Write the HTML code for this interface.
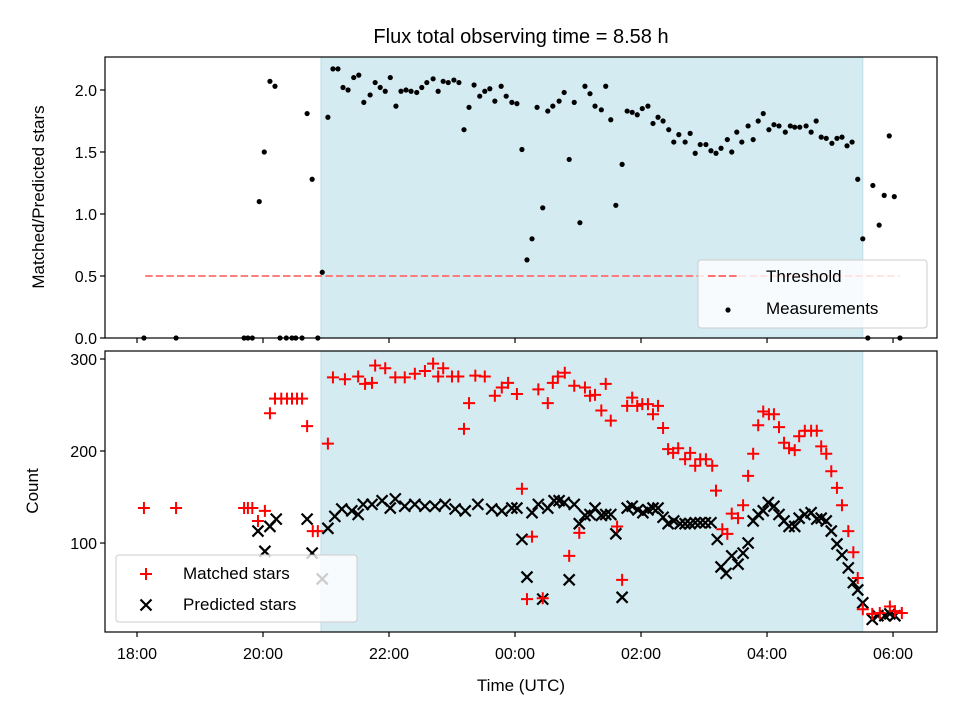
<!DOCTYPE html>
<html><head><meta charset="utf-8"><style>
body{margin:0;background:#fff;}
svg text{font-family:"Liberation Sans","DejaVu Sans",sans-serif;fill:#000;}
</style></head><body>
<svg id="chart" width="960" height="720" xmlns="http://www.w3.org/2000/svg">
<rect width="960" height="720" fill="#fff"/>
<text x="521" y="43" font-size="20" text-anchor="middle">Flux total observing time = 8.58 h</text>
<g id="topg"></g><g id="botg"></g>
</svg>
<script>
// hours since 18:00 UTC
const ratioTimes=[.11,.62,1.70,1.76,1.83,1.94,2.02,2.11,2.19,2.27,2.37,2.46,2.52,2.62,2.70,2.78,2.87,2.94,3.03,3.11,3.19,3.27,3.35,3.44,3.52,3.60,3.70,3.78,3.86,3.94,4.02,4.11,4.19,4.27,4.35,4.44,4.52,4.60,4.70,4.78,4.86,4.94,5.03,5.11,5.19,5.27,5.35,5.44,5.52,5.60,5.68,5.78,5.86,5.95,6.03,6.11,6.19,6.27,6.35,6.44,6.52,6.60,6.70,6.78,6.86,6.94,7.03,7.11,7.19,7.27,7.37,7.44,7.52,7.60,7.70,7.78,7.86,7.94,8.02,8.11,8.19,8.27,8.35,8.44,8.52,8.60,8.70,8.78,8.86,8.94,9.03,9.11,9.19,9.27,9.37,9.44,9.52,9.60,9.70,9.78,9.86,9.94,10.03,10.11,10.19,10.29,10.37,10.44,10.52,10.62,10.70,10.78,10.86,10.94,11.03,11.11,11.19,11.27,11.35,11.44,11.52,11.60,11.68,11.78,11.86,11.94,12.02,12.11];
const ratioValues=[0,0,0,0,0,1.10,1.50,2.07,2.03,0,0,0,0,0,1.81,1.28,0,0.53,1.78,2.17,2.17,2.02,2.00,2.10,2.12,1.90,1.96,2.06,2.02,1.99,2.10,1.87,1.99,2.00,1.99,1.98,2.02,2.06,2.09,1.99,2.07,2.06,2.08,2.06,1.68,1.86,2.04,1.95,1.99,2.01,1.91,2.03,1.95,1.90,1.89,1.52,0.63,0.80,1.86,1.05,1.83,1.87,1.91,1.98,1.44,1.90,0.93,2.03,1.97,1.87,1.84,2.03,1.76,1.07,1.40,1.83,1.82,1.80,1.85,1.87,1.73,1.78,1.75,1.68,1.58,1.64,1.58,1.65,1.49,1.56,1.56,1.51,1.49,1.53,1.60,1.50,1.66,1.58,1.71,1.60,1.75,1.81,1.68,1.72,1.71,1.66,1.71,1.70,1.70,1.71,1.66,1.75,1.62,1.61,1.57,1.61,1.62,1.55,1.58,1.28,0.80,0,1.23,0.91,1.15,1.63,1.14,0];
const matchedTimes=[.11,.62,1.70,1.76,1.83,1.92,2.03,2.11,2.19,2.29,2.38,2.46,2.54,2.62,2.70,2.79,2.87,3.03,3.11,3.30,3.51,3.62,3.73,3.78,3.94,4.10,4.25,4.41,4.57,4.70,4.78,4.86,5.00,5.10,5.19,5.27,5.37,5.52,5.68,5.79,5.89,6.03,6.11,6.19,6.27,6.37,6.44,6.52,6.60,6.68,6.79,6.86,6.94,7.02,7.11,7.19,7.27,7.37,7.44,7.52,7.62,7.70,7.78,7.86,7.94,8.02,8.11,8.19,8.27,8.35,8.43,8.51,8.59,8.70,8.78,8.86,8.94,9.03,9.13,9.19,9.29,9.37,9.44,9.54,9.62,9.70,9.78,9.86,9.94,10.03,10.11,10.19,10.27,10.35,10.44,10.51,10.60,10.70,10.79,10.86,10.94,11.02,11.11,11.19,11.29,11.37,11.44,11.52,11.67,11.79,11.95,12.03,12.14];
const matchedValues=[138,138,138,138,138,124,135,241,257,257,257,257,257,257,227,113,113,208,280,278,281,273,274,293,290,280,280,284,287,295,281,290,281,281,224,252,282,281,260,269,274,262,159,39,107,267,40,252,274,281,285,86,271,111,269,260,261,244,273,233,118,60,249,258,249,251,251,240,249,225,202,198,203,191,198,184,191,191,184,157,115,110,132,127,141,173,197,228,243,240,240,226,209,203,201,216,222,222,222,205,197,178,160,141,113,90,62,28,23,24,31,26,24];
const predTimes=[1.92,2.03,2.11,2.21,2.70,2.78,2.94,3.03,3.14,3.25,3.41,3.51,3.59,3.73,3.89,4.02,4.10,4.25,4.41,4.57,4.73,4.89,5.05,5.21,5.41,5.63,5.79,5.95,6.03,6.11,6.19,6.27,6.37,6.44,6.52,6.62,6.70,6.78,6.86,6.94,7.02,7.11,7.19,7.27,7.37,7.44,7.52,7.60,7.70,7.78,7.86,7.95,8.03,8.11,8.19,8.27,8.35,8.43,8.52,8.62,8.70,8.78,8.86,8.94,9.02,9.11,9.21,9.27,9.35,9.44,9.54,9.62,9.70,9.78,9.86,9.94,10.02,10.11,10.19,10.27,10.35,10.44,10.51,10.60,10.70,10.79,10.86,10.94,11.02,11.11,11.19,11.29,11.37,11.44,11.52,11.67,11.76,11.87,11.95,12.03];
const predValues=[113,91,118,126,126,89,61,116,129,137,135,131,142,142,146,138,148,140,142,140,140,142,137,135,142,137,135,138,138,104,63,133,142,39,138,146,146,144,60,142,121,130,131,138,130,131,131,110,41,138,140,136,133,136,138,138,128,121,124,121,121,121,122,122,122,122,104,74,67,86,77,89,100,124,131,135,144,140,131,124,118,118,127,131,133,126,127,124,113,99,87,73,57,49,35,17,21,21,23,21];
const xTickHours=[0,2,4,6,8,10,12];
const xTickLabels=["18:00","20:00","22:00","00:00","02:00","04:00","06:00"];
const topTicks=[0,0.5,1.0,1.5,2.0];
const topTickLabels=["0.0","0.5","1.0","1.5","2.0"];
const botTicks=[100,200,300];
const botTickLabels=["100","200","300"];
const spanStart=2.92, spanEnd=11.52;
const threshold=0.5, thrStart=0.13, thrEnd=12.11;

const NS="http://www.w3.org/2000/svg";
const L=105,R=937;
const X=h=>L+(h+0.508)/(13.206)*(R-L);
const TT=57,TB=338,BT=351,BB=632;
const YT=v=>TB-(v/2.266)*(TB-TT);
const YB=v=>BB-((v-3.3)/(308.7-3.3))*(BB-BT);
function mk(tag,attrs,parent){const e=document.createElementNS(NS,tag);for(const k in attrs)e.setAttribute(k,attrs[k]);parent.appendChild(e);return e;}
const gTop=document.getElementById('topg'), gBot=document.getElementById('botg');

function frame(g,t,b,name){
  const s=mk('rect',{x:X(spanStart),y:t,width:X(spanEnd)-X(spanStart),height:b-t,fill:'#d4ebf2',stroke:'#bcdde8','stroke-width':1},g);
  
  
}
frame(gTop,TT,TB,'top');frame(gBot,BT,BB,'bottom');

const th=mk('line',{x1:X(thrStart),x2:X(thrEnd),y1:YT(threshold),y2:YT(threshold),stroke:'#ff7070','stroke-opacity':0.9,'stroke-width':2,'stroke-dasharray':'7.4,3.2'},gTop);



for(let i=0;i<Math.min(ratioTimes.length,ratioValues.length);i++){
  const c=mk('circle',{cx:X(ratioTimes[i]),cy:YT(ratioValues[i]),r:2.6,fill:'#000'},gTop);
  
  
}
for(let i=0;i<Math.min(predTimes.length,predValues.length);i++){
  const x=X(predTimes[i]),y=YB(predValues[i]),d=5.5;
  const p=mk('path',{d:`M${x-d},${y-d}L${x+d},${y+d}M${x-d},${y+d}L${x+d},${y-d}`,stroke:'#000','stroke-width':2.2},gBot);
  
  
}
for(let i=0;i<Math.min(matchedTimes.length,matchedValues.length);i++){
  const x=X(matchedTimes[i]),y=YB(matchedValues[i]),d=6;
  const p=mk('path',{d:`M${x-d},${y}L${x+d},${y}M${x},${y-d}L${x},${y+d}`,stroke:'#f00','stroke-width':2},gBot);
  
  
}

function axes(g,t,b,ticks,labels,Y,name){
  const r=mk('rect',{x:L,y:t,width:R-L,height:b-t,fill:'none',stroke:'#000','stroke-width':1.2},g);
  
  
  ticks.forEach((v,i)=>{
    mk('line',{x1:L-5,x2:L,y1:Y(v),y2:Y(v),stroke:'#000','stroke-width':1.2},g);
    const tx=mk('text',{x:L-8,y:Y(v)+6,'font-size':16,'text-anchor':'end'},g);
    tx.textContent=labels[i];
    
    
  });
  xTickHours.forEach(h=>{mk('line',{x1:X(h),x2:X(h),y1:b,y2:b+5,stroke:'#000','stroke-width':1.2},g);});
}
axes(gTop,TT,TB,topTicks,topTickLabels,YT,'top');
axes(gBot,BT,BB,botTicks,botTickLabels,YB,'bottom');
xTickHours.forEach((h,i)=>{
  const tx=mk('text',{x:X(h),y:BB+27,'font-size':16,'text-anchor':'middle'},gBot);
  tx.textContent=xTickLabels[i];
  
  
});
let e;
e=mk('text',{x:521,y:691,'font-size':17,'text-anchor':'middle'},gBot);e.textContent='Time (UTC)';


e=mk('text',{x:0,y:0,'font-size':17,'text-anchor':'middle',transform:'translate(44,197) rotate(-90)'},gTop);e.textContent='Matched/Predicted stars';


e=mk('text',{x:0,y:0,'font-size':17,'text-anchor':'middle',transform:'translate(38,491) rotate(-90)'},gBot);e.textContent='Count';



const lg1=mk('g',{},gTop);


mk('rect',{x:698,y:260,width:229,height:68,rx:3,fill:'#fff','fill-opacity':0.8,stroke:'#ccc'},lg1);
mk('line',{x1:708,x2:738,y1:276,y2:276,stroke:'#ff7070','stroke-width':2,'stroke-dasharray':'7.4,3.2'},lg1);
mk('circle',{cx:728,cy:310,r:2.6,fill:'#000'},lg1);
e=mk('text',{x:766,y:282,'font-size':17},lg1);e.textContent='Threshold';
e=mk('text',{x:766,y:314,'font-size':17},lg1);e.textContent='Measurements';
const lg2=mk('g',{},gBot);


mk('rect',{x:116,y:555,width:241,height:67,rx:3,fill:'#fff','fill-opacity':0.8,stroke:'#ccc'},lg2);
mk('path',{d:'M140,574L152,574M146,568L146,580',stroke:'#f00','stroke-width':2},lg2);
mk('path',{d:'M140.5,599.5L151.5,610.5M140.5,610.5L151.5,599.5',stroke:'#000','stroke-width':2.2},lg2);
e=mk('text',{x:183,y:579,'font-size':17},lg2);e.textContent='Matched stars';
e=mk('text',{x:183,y:610,'font-size':17},lg2);e.textContent='Predicted stars';
</script>
</body></html>
